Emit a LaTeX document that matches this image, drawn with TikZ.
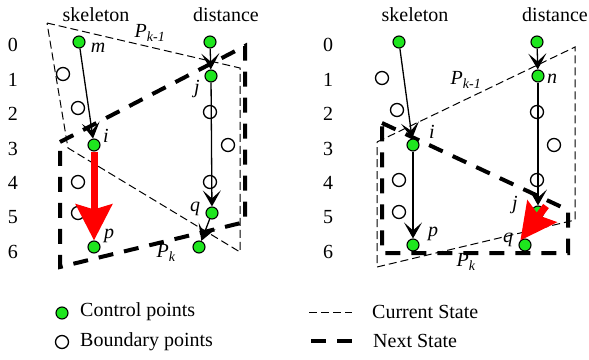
\documentclass[tikz,border=0pt]{standalone}
\usepackage{fontspec}
\setmainfont{Liberation Serif}
\usepackage{tikz}
\usetikzlibrary{arrows.meta,positioning}
\usepackage{xcolor}
\definecolor{ctrlgreen}{HTML}{1EE61E}
\definecolor{movered}{HTML}{FF0000}

\begin{document}
\begin{tikzpicture}[x=1pt,y=-1pt,font=\fontsize{20}{24}\selectfont,
  ctrl/.style={circle,draw,line width=1.1pt,fill=ctrlgreen,inner sep=0pt,minimum size=12pt},
  bound/.style={circle,draw,line width=1.3pt,fill=white,inner sep=0pt,minimum size=13pt},
  cur/.style={line width=1pt,dash pattern=on 8pt off 4pt},
  nxt/.style={line width=4pt,dash pattern=on 15pt off 11pt},
  link/.style={line width=1.3pt,-{Stealth[length=16pt,width=18pt,inset=8pt]}},
  move/.style={movered,line width=7pt,-{Stealth[length=36pt,width=36pt,inset=5pt]}},
  lab/.style={font=\fontsize{20}{24}\selectfont\itshape,inner sep=1pt}]
  \useasboundingbox (0,0) rectangle (589,359);
  % row numbers and column titles
  \foreach \r in {0,...,6} {
    \node (rowL\r) at (13,{45+34.5*\r}) {\r};
    \node (rowR\r) at (328,{45+34.5*\r}) {\r};
  }
  \node (skelL) at (96,15) {skeleton};
  \node (distL) at (226,15) {distance};
  \node (skelR) at (415,15) {skeleton};
  \node (distR) at (555,15) {distance};

  % left: states
  \draw[cur] (47,23) -- (240,68) -- (240,252) -- (68,148) -- cycle;
  \draw[nxt] (60,142) -- (245,46) -- (245,222) -- (60,267) -- cycle;
  \node[lab] (pkaL) at (150,33) {P\textsubscript{k-1}};
  \node[lab] (pkbL) at (166,253) {P\textsubscript{k}};
  % left: points
  \foreach \x/\y [count=\c] in {63/74,78/108,210/112,228/145,78/182,210/182,78/213}
    \node[bound] (bL\c) at (\x,\y) {};
  \node[ctrl] (m) at (79,42) {};
  \node[ctrl] (d0) at (210,42) {};
  \node[ctrl] (j) at (211,76) {};
  \node[ctrl] (i) at (94,145) {};
  \node[ctrl] (q) at (212,213) {};
  \node[ctrl] (p) at (94,247) {};
  \node[ctrl] (d6) at (199,247) {};
  \node[lab] (lm) at (98,48) {m};
  \node[lab] (lj) at (197,89) {j};
  \node[lab] (li) at (106,136) {i};
  \node[lab] (lq) at (195,209) {q};
  \node[lab] (lp) at (109,236) {p};
  \draw[link] (m) -- (i);
  \draw[link] (d0) -- (j);
  \draw[link] (j) -- (q);
  \draw[link] (q) -- (d6);
  \draw[move] (i) -- (p);

  % right: states
  \draw[cur] (377,142) -- (575,47) -- (575,220) -- (377,267) -- cycle;
  \draw[nxt] (382,123) -- (568,210) -- (568,253) -- (382,253) -- cycle;
  \node[lab] (pkaR) at (466,80) {P\textsubscript{k-1}};
  \node[lab] (pkbR) at (466,262) {P\textsubscript{k}};
  % right: points
  \foreach \x/\y [count=\c] in {382/78,397/110,537/112,554/145,399/180,537/180,399/212}
    \node[bound] (bR\c) at (\x,\y) {};
  \node[ctrl] (s0) at (399,42) {};
  \node[ctrl] (t0) at (537,42) {};
  \node[ctrl] (n) at (538,76) {};
  \node[ctrl] (ri) at (413,145) {};
  \node[ctrl] (rj) at (538,212) {};
  \node[ctrl] (rp) at (413,245) {};
  \node[ctrl] (rq) at (525,245) {};
  \coordinate (rjs) at (546,206);
  \node[lab] (ln) at (552,79) {n};
  \node[lab] (lri) at (432,132) {i};
  \node[lab] (lrp) at (433,234) {p};
  \node[lab] (lrj) at (515,205) {j};
  \node[lab] (lrq) at (508,240) {q};
  \draw[link] (s0) -- (ri);
  \draw[link] (ri) -- (rp);
  \draw[link] (t0) -- (n);
  \draw[link] (n) -- (rj);
  \draw[move] (rjs) -- (rq.north west);

  % legend
  \node[ctrl] (lgc) at (62,313) {};
  \node[bound] (lgb) at (62,342) {};
  \node[anchor=west,inner sep=0pt] (lgct) at (80,312) {Control points};
  \node[anchor=west,inner sep=0pt] (lgbt) at (80,342) {Boundary points};
  \coordinate (lc1) at (309,312);
  \coordinate (lc2) at (352,312);
  \coordinate (ln1) at (311,341);
  \coordinate (ln2) at (352,341);
  \draw[cur] (lc1) -- (lc2);
  \draw[nxt] (ln1) -- (ln2);
  \node[anchor=west,inner sep=0pt] (lcurt) at (372,312) {Current State};
  \node[anchor=west,inner sep=0pt] (lnxtt) at (373,341) {Next State};
\end{tikzpicture}
\end{document}
